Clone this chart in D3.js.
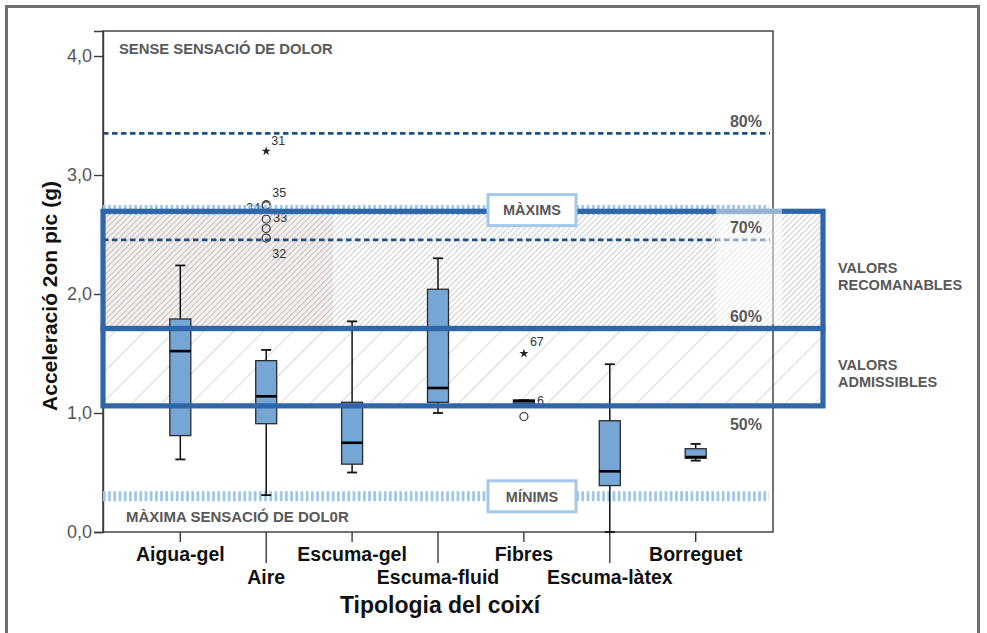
<!DOCTYPE html>
<html>
<head>
<meta charset="utf-8">
<script src="https://cdn.jsdelivr.net/npm/d3@7"></script>
<style>
body{margin:0;background:#fff;}
svg{display:block;}
text{font-family:"Liberation Sans",Arial,sans-serif;}
</style>
</head>
<body>
<div id="chart"></div>
<script>
// box plot data
const categories = ["Aigua-gel","Aire","Escuma-gel","Escuma-fluid","Fibres","Escuma-làtex","Borreguet"];
const whiskerLow  = [0.61, 0.31, 0.50, 1.00, 1.08, 0.00, 0.60];
const q1          = [0.81, 0.91, 0.57, 1.09, 1.08, 0.39, 0.62];
const median      = [1.52, 1.14, 0.75, 1.21, 1.10, 0.51, 0.63];
const q3          = [1.79, 1.44, 1.09, 2.04, 1.11, 0.935, 0.70];
const whiskerHigh = [2.24, 1.53, 1.77, 2.30, 1.11, 1.41, 0.74];

const outlierCat   = ["Aire","Aire","Aire","Aire","Aire","Aire","Fibres","Fibres"];
const outlierValue = [3.20, 2.75, 2.74, 2.63, 2.55, 2.47, 1.50, 0.97];
const outlierKind  = ["star","circle","circle","circle","circle","circle","star","circle"];
const outlierLabel = ["31","35","34","33","","32","67","6"];

const yTicks = [0,1,2,3,4];

// reference lines
const dashedNames  = ["80%","70%"];
const dashedValues = [3.35, 2.455];
const pctLabels    = ["80%","70%","60%","50%"];
const pctLabelAt   = [3.40, 2.51, 1.765, 0.86];

const limitNames  = ["MÀXIMS","MÍNIMS"];
const limitValues = [2.705, 0.30];

const zoneNames = [["VALORS","RECOMANABLES"],["VALORS","ADMISSIBLES"]];
const zoneTop   = [2.695, 1.71];
const zoneBottom= [1.71, 1.06];

const W = 987, H = 633;
const plot = {left:103, right:773, top:31, bottom:532};

const svg = d3.select("#chart").append("svg")
	.attr("width", W)
	.attr("height", H);

const defs = svg.append("defs");
function hatch(id, size, color, width, bg){
	const p = defs.append("pattern")
		.attr("id", id)
		.attr("patternUnits","userSpaceOnUse")
		.attr("width", size).attr("height", size)
		.attr("patternTransform","rotate(45)");
	p.append("rect").attr("width",size).attr("height",size).attr("fill",bg);
	p.append("line")
		.attr("x1",0).attr("y1",0).attr("x2",0).attr("y2",size)
		.attr("stroke",color).attr("stroke-width",width);
}
hatch("dense", 4, "#9c9c9c", 1, "#ffffff");
hatch("denseTint", 4, "#a08c86", 1, "#f4f0ef");
hatch("sparse", 21, "#b9b9b9", 1.1, "#ffffff");

const y = d3.scaleLinear().domain([0, 4.21]).range([plot.bottom, plot.bottom - 4.21*119]);
const x = d3.scalePoint().domain(categories).range([plot.left, plot.right]).padding(0.9);

// outer frame of the picture
svg.append("rect")
	.attr("x",6.5).attr("y",6.5).attr("width",972).attr("height",660)
	.attr("fill","none").attr("stroke","#707070").attr("stroke-width",3);

const zoneRight = 823;

// hatched fills
svg.append("rect")
	.attr("x",plot.left).attr("y",y(zoneTop[0]))
	.attr("width",zoneRight-plot.left).attr("height",y(zoneBottom[0])-y(zoneTop[0]))
	.attr("fill","url(#dense)");
svg.append("rect")
	.attr("x",plot.left).attr("y",y(zoneTop[0]))
	.attr("width",333-plot.left).attr("height",y(zoneBottom[0])-y(zoneTop[0]))
	.attr("fill","url(#denseTint)");
svg.append("rect")
	.attr("x",plot.left).attr("y",y(zoneTop[1]))
	.attr("width",zoneRight-plot.left).attr("height",y(zoneBottom[1])-y(zoneTop[1]))
	.attr("fill","url(#sparse)");

// dashed percent lines
svg.selectAll(".pct-line")
	.data(dashedValues)
	.enter().append("line")
	.attr("class","pct-line")
	.attr("x1",plot.left).attr("x2",770)
	.attr("y1",d=>y(d)).attr("y2",d=>y(d))
	.attr("stroke","#1f4e89").attr("stroke-width",2.7)
	.attr("stroke-dasharray","5.5,3.5");

// plot frame
svg.append("rect")
	.attr("x",plot.left).attr("y",plot.top)
	.attr("width",plot.right-plot.left).attr("height",plot.bottom-plot.top)
	.attr("fill","none").attr("stroke","#3a3a3a").attr("stroke-width",1.4);

// y axis
const yAxis = svg.append("g")
	.attr("transform",`translate(${plot.left},0)`)
	.call(d3.axisLeft(y).tickValues(yTicks).tickSize(9).tickPadding(2)
		.tickFormat(d=>d.toFixed(1).replace(".",",")));
yAxis.select(".domain").attr("stroke","#3a3a3a").attr("stroke-width",1.4);
yAxis.selectAll(".tick line").attr("stroke","#3a3a3a").attr("stroke-width",1.4);
yAxis.selectAll(".tick text")
	.attr("fill","#555").style("font-size","18px")
	.style("font-family","'Liberation Sans',Arial,sans-serif");

// x axis ticks and labels, alternating rows
const xg = svg.append("g");
xg.selectAll(".xtick")
	.data(categories)
	.enter().append("line")
	.attr("x1",d=>x(d)).attr("x2",d=>x(d))
	.attr("y1",plot.bottom)
	.attr("y2",(d,i)=> i%2 ? plot.bottom+31 : plot.bottom+10)
	.attr("stroke","#3a3a3a").attr("stroke-width",1.4);
xg.selectAll(".xlabel")
	.data(categories)
	.enter().append("text")
	.attr("x",d=>x(d))
	.attr("y",(d,i)=> i%2 ? 584 : 561)
	.attr("text-anchor","middle")
	.style("font-size","19.5px").style("font-weight","bold")
	.attr("fill","#111")
	.text(d=>d);

// outliers
const nudge = {"31":[5,-6],"35":[6,-8],"34":[-20,6],"33":[7,3],"32":[6,20],"67":[6,-8],"6":[13,-12]};
const outl = svg.append("g");
outlierValue.forEach((v,i)=>{
	const cx = x(outlierCat[i]), cy = y(v);
	if(outlierKind[i]==="star"){
		outl.append("path")
			.attr("d", d3.symbol(d3.symbolStar).size(26)())
			.attr("transform",`translate(${cx},${cy})`)
			.attr("fill","#222");
	} else {
		outl.append("circle")
			.attr("cx",cx).attr("cy",cy).attr("r",4)
			.attr("fill","none").attr("stroke","#444").attr("stroke-width",1.3);
	}
	if(outlierLabel[i]){
		const n = nudge[outlierLabel[i]] || [6,-6];
		outl.append("text")
			.attr("x",cx+n[0]).attr("y",cy+n[1])
			.style("font-size","12.5px").attr("fill","#333")
			.text(outlierLabel[i]);
	}
});

// MÀXIMS / MÍNIMS dotted bands
svg.selectAll(".limit")
	.data(limitValues)
	.enter().append("line")
	.attr("x1",plot.left).attr("x2",769)
	.attr("y1",d=>y(d)).attr("y2",d=>y(d))
	.attr("stroke","#9ec5ea").attr("stroke-width",10)
	.attr("stroke-dasharray","2.7,2.5");

// boxes
const boxW = 21, capW = 10;
const boxes = svg.selectAll(".box")
	.data(categories)
	.enter().append("g")
	.attr("class","box")
	.attr("transform",d=>`translate(${x(d)},0)`);
boxes.append("line")
	.attr("y1",(d,i)=>y(whiskerHigh[i])).attr("y2",(d,i)=>y(q3[i]))
	.attr("stroke","#111").attr("stroke-width",1.5);
boxes.append("line")
	.attr("y1",(d,i)=>y(q1[i])).attr("y2",(d,i)=>y(whiskerLow[i]))
	.attr("stroke","#111").attr("stroke-width",1.5);
boxes.append("line")
	.attr("x1",-capW/2).attr("x2",capW/2)
	.attr("y1",(d,i)=>y(whiskerHigh[i])).attr("y2",(d,i)=>y(whiskerHigh[i]))
	.attr("stroke","#111").attr("stroke-width",1.8);
boxes.append("line")
	.attr("x1",-capW/2).attr("x2",capW/2)
	.attr("y1",(d,i)=>y(whiskerLow[i])).attr("y2",(d,i)=>y(whiskerLow[i]))
	.attr("stroke","#111").attr("stroke-width",1.8);
boxes.append("rect")
	.attr("x",-boxW/2).attr("width",boxW)
	.attr("y",(d,i)=>y(q3[i]))
	.attr("height",(d,i)=>y(q1[i])-y(q3[i]))
	.attr("fill","#76a6d6").attr("stroke","#2b2b2b").attr("stroke-width",1.3);
boxes.append("line")
	.attr("x1",-boxW/2).attr("x2",boxW/2)
	.attr("y1",(d,i)=>y(median[i])).attr("y2",(d,i)=>y(median[i]))
	.attr("stroke","#000").attr("stroke-width",2.6);

// zone outlines
const zoneStroke = "#2f66a9";
zoneTop.forEach((t,i)=>{
	svg.append("rect")
		.attr("x",plot.left).attr("y",y(t))
		.attr("width",zoneRight-plot.left).attr("height",y(zoneBottom[i])-y(t))
		.attr("fill","none").attr("stroke",zoneStroke).attr("stroke-width",5.2);
});

// light patch behind the percent labels
svg.append("rect")
	.attr("x",716).attr("y",y(zoneTop[0])-3)
	.attr("width",66).attr("height",y(zoneBottom[0])-y(zoneTop[0])-1)
	.attr("fill","#fff").attr("opacity",0.5);

// limit label boxes
const lb = svg.selectAll(".limit-box")
	.data(limitNames)
	.enter().append("g")
	.attr("transform",(d,i)=>`translate(532,${y(limitValues[i])})`);
lb.append("rect")
	.attr("x",-44).attr("y",-15.5).attr("width",88).attr("height",31)
	.attr("fill","#fff").attr("stroke","#a4c8ea").attr("stroke-width",3);
lb.append("text")
	.attr("text-anchor","middle").attr("dy","0.36em")
	.style("font-size","14.5px").style("font-weight","bold")
	.attr("fill","#595959")
	.text(d=>d);

// percent labels
svg.selectAll(".pct-label")
	.data(pctLabels)
	.enter().append("text")
	.attr("x",762)
	.attr("y",(d,i)=>y(pctLabelAt[i]))
	.attr("text-anchor","end")
	.style("font-size","16px").style("font-weight","bold")
	.attr("fill","#595959")
	.text(d=>d);

// zone names on the right
zoneNames.forEach((lines,i)=>{
	const mid = (y(zoneTop[i])+y(zoneBottom[i]))/2;
	const t = svg.append("text")
		.attr("x",838).attr("y",mid+3)
		.style("font-size","14.5px").style("font-weight","bold")
		.attr("fill","#595959");
	lines.forEach((l,j)=>{
		t.append("tspan").attr("x",838).attr("dy",j?17:0).text(l);
	});
});

// pain sensation notes
svg.append("text")
	.attr("x",119).attr("y",54)
	.style("font-size","14.8px").style("font-weight","bold")
	.attr("fill","#595959")
	.text("SENSE SENSACIÓ DE DOLOR");
svg.append("text")
	.attr("x",126).attr("y",522)
	.style("font-size","15px").style("font-weight","bold")
	.attr("fill","#595959")
	.text("MÀXIMA SENSACIÓ DE DOL0R");

// axis titles
svg.append("text")
	.attr("transform","translate(57,296) rotate(-90)")
	.attr("text-anchor","middle")
	.style("font-size","21px").style("font-weight","bold")
	.attr("fill","#111")
	.text("Acceleració 2on pic (g)");
svg.append("text")
	.attr("x",440).attr("y",613)
	.attr("text-anchor","middle")
	.style("font-size","23px").style("font-weight","bold")
	.attr("fill","#111")
	.text("Tipologia del coixí");
</script>
</body>
</html>
